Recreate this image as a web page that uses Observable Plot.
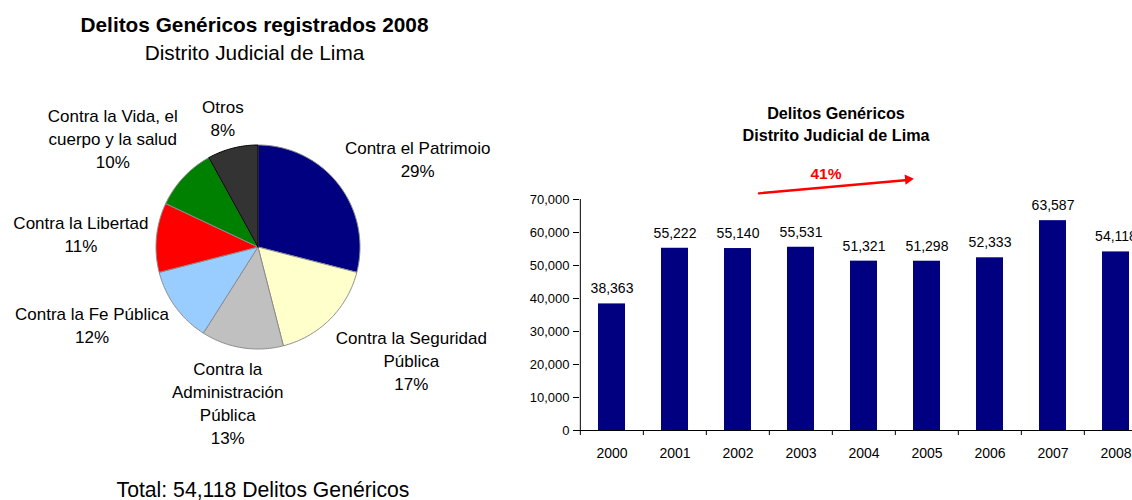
<!DOCTYPE html>
<html>
<head>
<meta charset="utf-8">
<script src="https://cdn.jsdelivr.net/npm/d3@7"></script>
<script src="https://cdn.jsdelivr.net/npm/@observablehq/plot@0.6"></script>
<style>
  body { margin: 0; background: #fff; }
  #root { position: relative; width: 1132px; height: 500px; overflow: hidden;
          font-family: "Liberation Sans", Arial, sans-serif; color: #000; background: #fff; }
  .t { position: absolute; white-space: nowrap; transform: translate(-50%, -50%); line-height: 1; }
  .abs { position: absolute; }
</style>
</head>
<body>
<div id="root"></div>
<script>
// ---------- DATA ----------
const pieTitle = "Delitos Genéricos registrados 2008";
const pieSubtitle = "Distrito Judicial de Lima";
const pieCategories = [
  "Contra el Patrimoio",
  "Contra la Seguridad\nPública",
  "Contra la\nAdministración\nPública",
  "Contra la Fe Pública",
  "Contra la Libertad",
  "Contra la Vida, el\ncuerpo y la salud",
  "Otros"
];
const piePercents = [29, 17, 13, 12, 11, 10, 8];

const barTitle1 = "Delitos Genéricos";
const barTitle2 = "Distrito Judicial de Lima";
const years = ["2000", "2001", "2002", "2003", "2004", "2005", "2006", "2007", "2008"];
const values = [38363, 55222, 55140, 55531, 51321, 51298, 52333, 63587, 54118];
const yTicks = [0, 10000, 20000, 30000, 40000, 50000, 60000, 70000];

// ---------- STYLE ----------
const pieColors = ["#000080", "#FFFFCC", "#C0C0C0", "#99CCFF", "#FF0000", "#008000", "#333333"];
const barColor = "#000080";
const FONT = '"Liberation Sans", Arial, sans-serif';
const fmt = d3.format(",");

const root = document.getElementById("root");
function addText(txt, x, y, css) {
  const d = document.createElement("div");
  d.className = "t";
  d.textContent = txt;
  d.style.left = x + "px";
  d.style.top = y + "px";
  Object.assign(d.style, css);
  root.appendChild(d);
}

// ---------- PIE ----------
const PW = 520, PH = 470, cx = 257.5, cy = 246.5, r = 102;
const LF = 17, LH = 23, GAP = 8;
const pieData = pieCategories.map((c, i) => ({name: c, pct: piePercents[i], color: pieColors[i]}));
const arcs = d3.pie().sort(null).value(d => d.pct)(pieData);

const ctx = document.createElement("canvas").getContext("2d");
ctx.font = `${LF}px ${FONT}`;

const pieMarks = [];
arcs.forEach((a, i) => {
  const n = Math.max(2, Math.ceil((a.endAngle - a.startAngle) / (Math.PI / 180)));
  const pts = [{x: cx, y: cy}];
  for (let k = 0; k <= n; k++) {
    const t = a.startAngle + (a.endAngle - a.startAngle) * k / n;
    pts.push({x: cx + r * Math.sin(t), y: cy - r * Math.cos(t)});
  }
  pts.push({x: cx, y: cy});
  pieMarks.push(Plot.line(pts, {
    x: "x", y: "y", curve: "linear",
    fill: a.data.color,
    stroke: a.data.name === "Otros" ? "#000" : "#8c8c8c",
    strokeWidth: 1, strokeLinejoin: "round"
  }));
});

const clamp = v => Math.max(-1, Math.min(1, v * 1.5));
const labelData = arcs.map(a => {
  const text = a.data.name + "\n" + a.data.pct + "%";
  const lines = text.split("\n");
  const hw = d3.max(lines, l => ctx.measureText(l).width) / 2;
  const hh = lines.length * LH / 2;
  const m = (a.startAngle + a.endAngle) / 2;
  const ux = Math.sin(m), uy = -Math.cos(m);
  return {
    x: cx + (r + GAP) * ux + clamp(ux) * hw,
    y: cy + (r + GAP) * uy + clamp(uy) * hh * (uy > 0 && uy < 0.65 ? 0.6 : 1),
    text
  };
});
pieMarks.push(Plot.text(labelData, {
  x: "x", y: "y", text: "text", fontSize: LF, lineHeight: LH / LF,
  textAnchor: "middle", lineAnchor: "middle", fill: "#000"
}));

const pie = Plot.plot({
  width: PW, height: PH, margin: 0,
  x: {domain: [0, PW], range: [0, PW], axis: null},
  y: {domain: [0, PH], range: [0, PH], axis: null},
  style: {fontFamily: FONT, background: "none", maxWidth: "none", overflow: "visible"},
  marks: pieMarks
});
const pieWrap = document.createElement("div");
pieWrap.className = "abs";
Object.assign(pieWrap.style, {left: "0px", top: "0px", width: PW + "px", height: PH + "px"});
pieWrap.appendChild(pie);
root.appendChild(pieWrap);

addText(pieTitle, 254.5, 25, {fontWeight: "bold", fontSize: "20.8px"});
addText(pieSubtitle, 254.5, 53, {fontSize: "20.8px"});
addText(`Total: ${fmt(values[values.length - 1])} Delitos Genéricos`, 263, 489.5, {fontSize: "21.2px"});

// ---------- BARS ----------
const BL = 509, BT = 150, BW = 650, BH = 320;
const mL = 70, mR = 10, mT = 49, mB = 40;
const step = (BW - mL - mR) / years.length;
const innerH = BH - mT - mB;
const yMax = yTicks[yTicks.length - 1];
const pxPerUnit = innerH / yMax;
const barData = years.map((y, i) => ({year: y, value: values[i]}));
const growth = values[values.length - 1] / values[0] - 1;

const bars = Plot.plot({
  width: BW, height: BH,
  marginLeft: mL, marginRight: mR, marginTop: mT, marginBottom: mB,
  x: {domain: years, paddingInner: 0.57, paddingOuter: 0.285, label: null},
  y: {domain: [0, yMax], label: null},
  style: {fontFamily: FONT, background: "none", maxWidth: "none", overflow: "visible", color: "#000"},
  marks: [
    Plot.barY(barData, {x: "year", y: "value", fill: barColor}),
    Plot.ruleY([0], {stroke: "#000", strokeWidth: 1}),
    Plot.ruleX([years[0]], {x: d => d, y1: 0, y2: yMax, dx: -step / 2, stroke: "#000", strokeWidth: 1}),
    Plot.ruleX(years, {x: d => d, y1: 0, y2: -5 / pxPerUnit, dx: -step / 2, stroke: "#000", strokeWidth: 1}),
    Plot.axisY({ticks: yTicks, tickFormat: fmt, tickSize: 6, tickPadding: 4, fontSize: 13, label: null}),
    Plot.axisX({tickSize: 0, tickPadding: 18, fontSize: 14, label: null}),
    Plot.text(barData, {x: "year", y: "value", text: d => fmt(d.value), dy: -15,
      lineAnchor: "middle", fontSize: 14, fill: "#000"}),
    Plot.arrow([0], {x1: () => years[2], x2: () => years[5], y1: 71300, y2: 76450,
      insetStart: 21, insetEnd: 22, stroke: "#FF0000", strokeWidth: 2.4, headLength: 0}),
    Plot.dot([0], {x: () => years[5], y: 76100, dx: -19, r: 3.8, symbol: "triangle",
      rotate: 85, fill: "#FF0000", stroke: "none"}),
    Plot.text([0], {x: () => years[3], y: yMax, text: () => d3.format(".0%")(growth),
      dx: 25, dy: -25, fill: "#FF0000", fontWeight: "bold", fontSize: 15.5, lineAnchor: "middle"})
  ]
});
const barWrap = document.createElement("div");
barWrap.className = "abs";
Object.assign(barWrap.style, {left: BL + "px", top: BT + "px", width: BW + "px", height: BH + "px"});
barWrap.appendChild(bars);
root.appendChild(barWrap);

addText(barTitle1, 836, 113, {fontWeight: "bold", fontSize: "16.2px"});
addText(barTitle2, 836, 134.5, {fontWeight: "bold", fontSize: "16.2px"});
</script>
</body>
</html>
